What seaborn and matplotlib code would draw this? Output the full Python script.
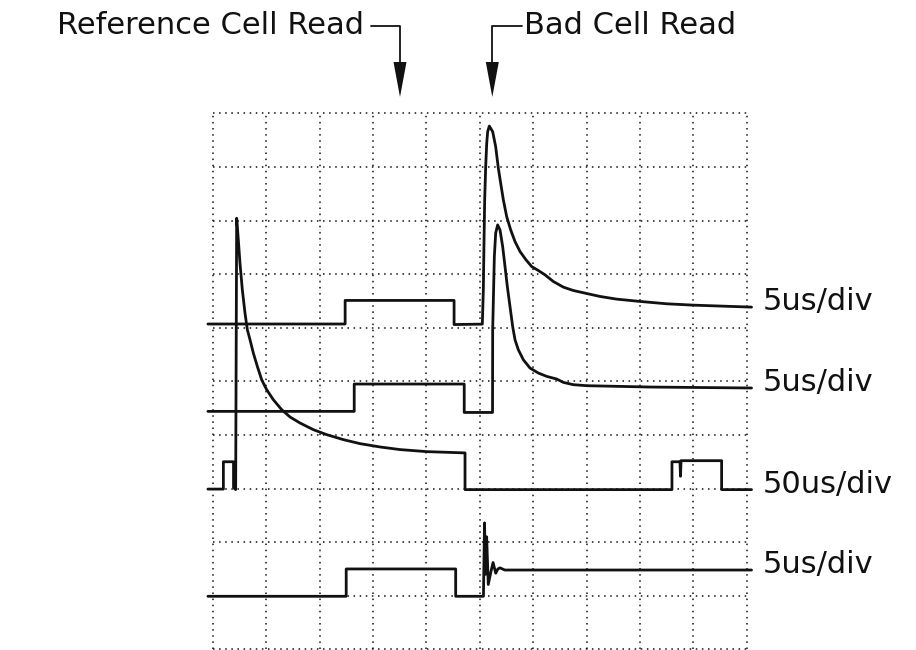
import matplotlib
matplotlib.use("Agg")
import numpy as np
import pandas as pd
import matplotlib.pyplot as plt
import seaborn as sns

# ---- data (time in divisions, amplitude in divisions) ----
trace1_t = [-0.09, 2.48, 2.48, 4.52, 4.52, 5.049, 5.068, 5.081, 5.093, 5.112, 5.131, 5.149, 5.180,
            5.243, 5.299, 5.349, 5.393, 5.443, 5.505, 5.580, 5.661, 5.755, 5.867, 5.973, 6.098,
            6.223, 6.379, 6.566, 6.753, 6.972, 7.253, 7.565, 8.002, 8.501, 9.000, 10.09]
trace1_v = [6.07, 6.07, 6.51, 6.51, 6.06, 6.068, 6.708, 7.639, 8.385, 9.006, 9.440, 9.658, 9.763,
            9.658, 9.378, 8.975, 8.695, 8.385, 8.074, 7.826, 7.608, 7.422, 7.267, 7.142, 7.068,
            6.987, 6.863, 6.758, 6.695, 6.646, 6.584, 6.534, 6.491, 6.447, 6.422, 6.385]

trace2_t = [-0.09, 2.65, 2.65, 4.71, 4.71, 5.24, 5.243, 5.274, 5.299, 5.336, 5.380, 5.430, 5.474,
            5.517, 5.567, 5.617, 5.661, 5.723, 5.817, 5.942, 6.098, 6.254, 6.441, 6.566, 6.753,
            7.003, 8.190, 10.09]
trace2_v = [4.44, 4.44, 4.95, 4.95, 4.42, 4.42, 5.962, 7.329, 7.764, 7.919, 7.826, 7.515, 7.142,
            6.770, 6.397, 6.024, 5.776, 5.590, 5.403, 5.248, 5.155, 5.093, 5.043, 4.981, 4.938,
            4.919, 4.894, 4.876]

trace3_t = [-0.09, 0.20, 0.20, 0.39, 0.39, 0.43, 0.449, 0.480, 0.511, 0.555, 0.605, 0.649, 0.699,
            0.761, 0.836, 0.917, 1.011, 1.135, 1.292, 1.448, 1.635, 1.884, 2.134, 2.446, 2.758,
            3.133, 3.507, 4.007, 4.725, 4.725, 8.60, 8.60, 8.75, 8.76, 8.77, 9.53, 9.53, 10.09]
trace3_v = [2.99, 2.99, 3.50, 3.50, 3.02, 2.98, 8.043, 7.639, 7.205, 6.708, 6.273, 5.962, 5.776,
            5.528, 5.279, 5.031, 4.844, 4.658, 4.472, 4.335, 4.223, 4.099, 4.006, 3.913, 3.838,
            3.776, 3.727, 3.689, 3.665, 2.98, 2.98, 3.50, 3.50, 3.23, 3.52, 3.52, 2.98, 2.98]

trace4_t = [-0.09, 2.50, 2.50, 4.55, 4.55, 5.07, 5.09, 5.11, 5.13, 5.16, 5.21, 5.25, 5.30, 5.34,
            5.38, 5.47, 10.09]
trace4_v = [0.99, 0.99, 1.50, 1.50, 0.99, 0.99, 2.36, 1.40, 2.10, 1.21, 1.45, 1.62, 1.42, 1.50,
            1.52, 1.48, 1.48]

trace_labels = ["5us/div", "5us/div", "50us/div", "5us/div"]
top_labels = ["Reference Cell Read", "Bad Cell Read"]

traces = [(trace1_t, trace1_v), (trace2_t, trace2_v), (trace3_t, trace3_v), (trace4_t, trace4_v)]

sns.set_style("white")
plt.rcParams["font.family"] = ["DejaVu Sans"]

fig = plt.figure(figsize=(9.16, 6.5), dpi=100)
ax = fig.add_axes([0.2322, 0.001, 0.583, 0.8246])
ax.set_xlim(0, 10)
ax.set_ylim(0, 10)
ax.set_axis_off()

# dotted graticule
for k in range(11):
    ax.axvline(k, color="#111111", lw=1.1, ls=(0, (1, 3)), clip_on=False, zorder=1)
    ax.axhline(k, color="#111111", lw=1.1, ls=(0, (1, 3)), clip_on=False, zorder=1)

for i, (t, v) in enumerate(traces):
    df = pd.DataFrame({"t": t, "v": v})
    sns.lineplot(data=df, x="t", y="v", sort=False, estimator=None, color="#111111",
                 lw=2.0, ax=ax, zorder=3)
    ax.text(10.29, v[-1] + 0.1, trace_labels[i], fontsize=22, va="center", ha="left",
            color="#111111", clip_on=False)

for line in ax.lines:
    line.set_clip_on(False)
    line.set_solid_joinstyle("round")
ax.set_xlabel("")
ax.set_ylabel("")

# overlay for the top annotations (pixel coordinates)
ov = fig.add_axes([0, 0, 1, 1], facecolor="none")
ov.set_xlim(0, 916)
ov.set_ylim(650, 0)
ov.set_axis_off()

ov.text(364, 25, top_labels[0], fontsize=22, ha="right", va="center", color="#111111")
ov.text(524, 25, top_labels[1], fontsize=22, ha="left", va="center", color="#111111")

for (x0, xa) in [(370.7, 400.0), (521.7, 492.3)]:
    ov.plot([x0, xa, xa], [26, 26, 64], color="#111111", lw=1.3)
    ov.fill([xa - 6.5, xa + 6.5, xa], [62, 62, 97], color="#111111", lw=0)

fig.savefig("out.png", dpi=100)
